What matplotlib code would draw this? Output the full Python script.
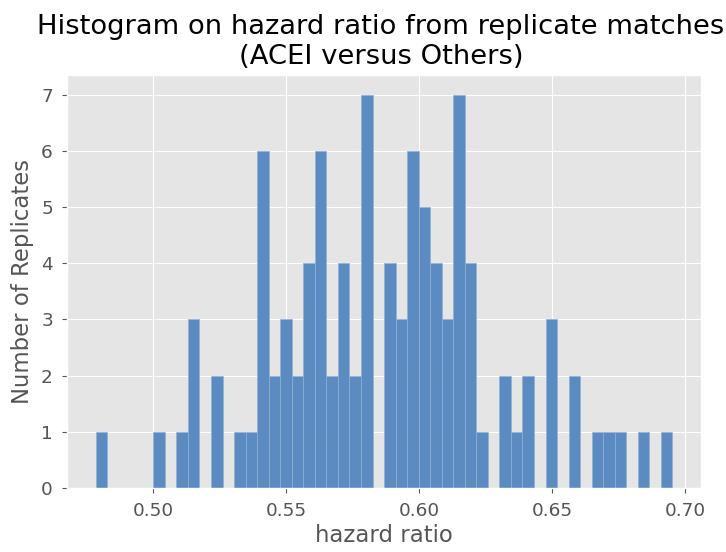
import matplotlib
matplotlib.use('Agg')
import matplotlib.pyplot as plt
import numpy as np

# 50 equal-width bins between the smallest and largest hazard ratio
hr_min = 0.4784
hr_max = 0.6952
bin_counts = [1, 0, 0, 0, 0, 1, 0, 1, 3, 0,
              2, 0, 1, 1, 6, 2, 3, 2, 4, 6,
              2, 4, 2, 7, 0, 4, 3, 6, 5, 4,
              3, 7, 4, 1, 0, 2, 1, 2, 0, 3,
              0, 2, 0, 1, 1, 1, 0, 1, 0, 1]
x_ticks = [0.50, 0.55, 0.60, 0.65, 0.70]
y_ticks = [0, 1, 2, 3, 4, 5, 6, 7]

edges = np.linspace(hr_min, hr_max, len(bin_counts) + 1)
centers = (edges[:-1] + edges[1:]) / 2

plt.style.use('ggplot')
fig, ax = plt.subplots(figsize=(7.26, 5.52), dpi=100)

ax.hist(centers, bins=edges, weights=bin_counts, color='#5b8bc0',
        edgecolor='#8fb0d6', linewidth=0.5)

ax.set_xticks(x_ticks)
ax.set_xticklabels(['%.2f' % t for t in x_ticks])
ax.set_yticks(y_ticks)
ax.tick_params(axis='both', labelsize=13.3, pad=6.5)
ax.set_xlabel('hazard ratio', fontsize=16.4, color='#555555', labelpad=3)
ax.set_ylabel('Number of Replicates', fontsize=16.4, color='#555555', labelpad=5)
ax.set_title('Histogram on hazard ratio from replicate matches\n(ACEI versus Others)',
             fontsize=19.7, color='black', x=0.495, pad=8)

fig.subplots_adjust(left=0.092, right=0.966, top=0.864, bottom=0.116)
fig.savefig('out.png', dpi=100)
